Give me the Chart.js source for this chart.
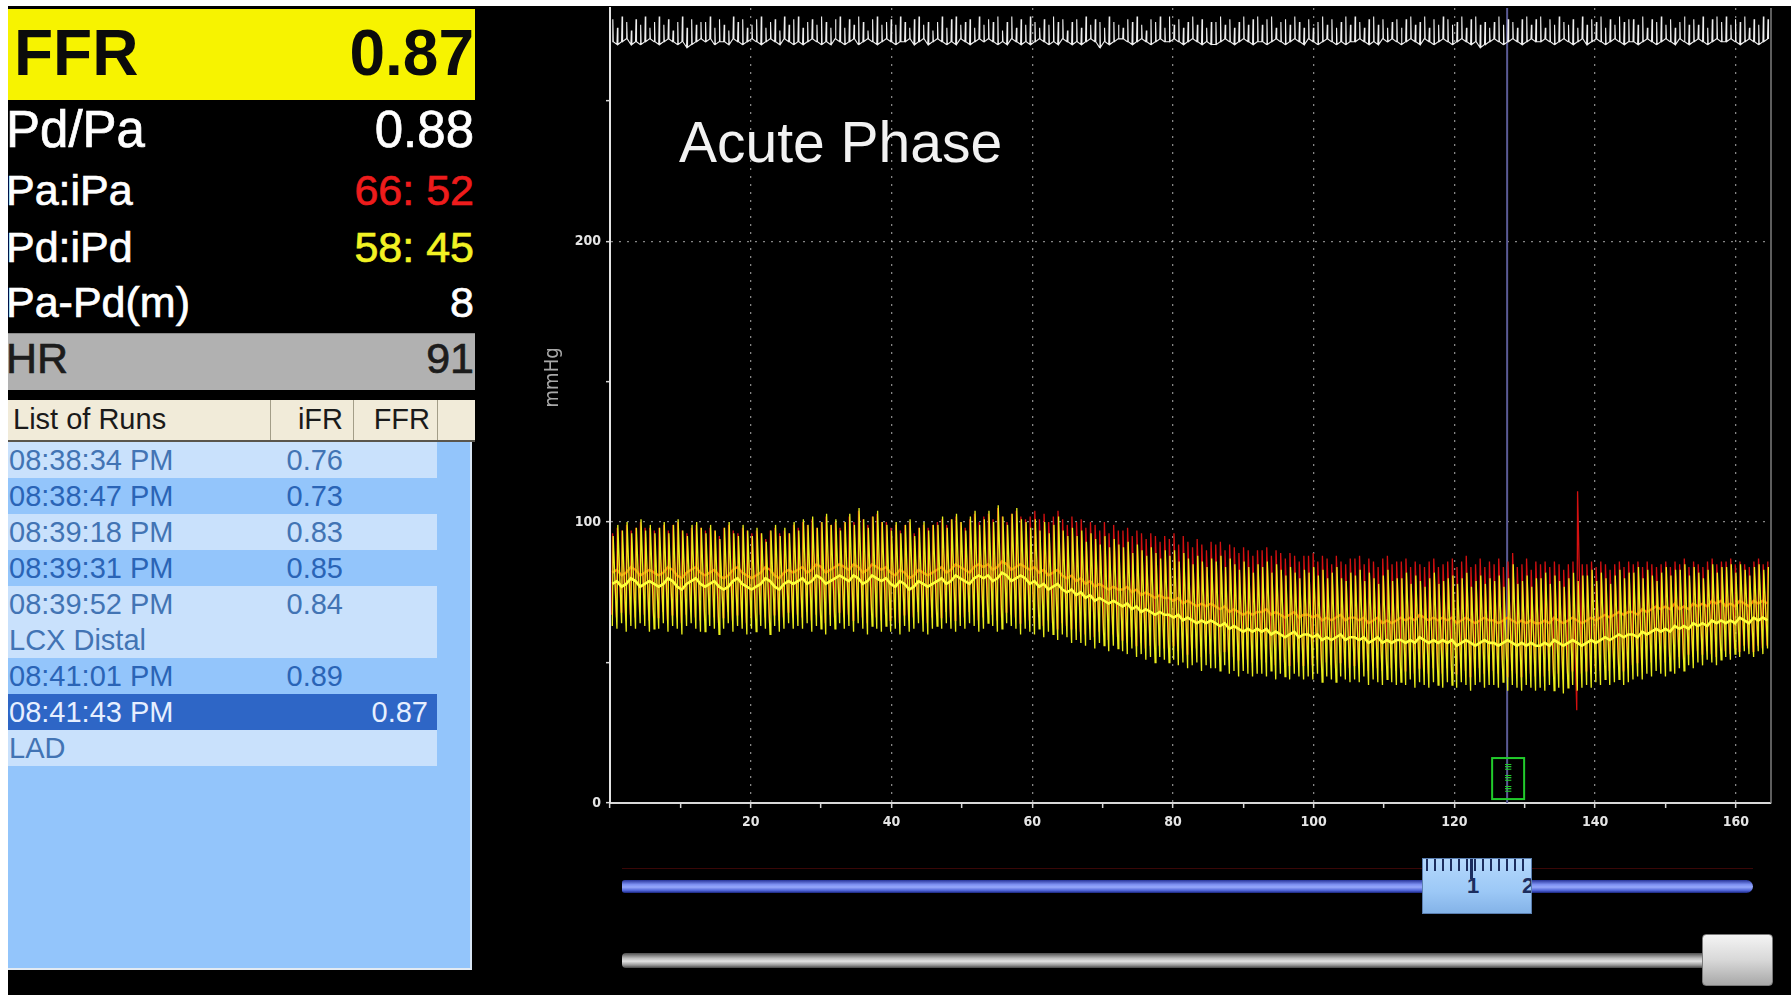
<!DOCTYPE html>
<html>
<head>
<meta charset="utf-8">
<title>FFR pressure recording</title>
<script src="https://cdn.jsdelivr.net/npm/chart.js@4.4.1/dist/chart.umd.min.js"></script>
<style>
  html, body { margin:0; padding:0; width:1791px; height:995px; overflow:hidden; background:#fff; }
  body { position:relative; font-family:"Liberation Sans", Arial, sans-serif; }
  .abs { position:absolute; }
  #screen { left:8px; top:6px; width:1783px; height:989px; background:#000; }
  #ffrBox { left:8px; top:9px; width:467px; height:91px; background:#f7f300; }
  #hrBox { left:8px; top:333px; width:467px; height:57px; background:#b1b1b1; border-top:1px solid #8c8c8c; box-sizing:border-box; }
  #metrics { left:8px; top:0; width:467px; height:392px; overflow:hidden; }
  .txt { position:absolute; white-space:pre; }
  #runsPanel { left:8px; top:400px; width:464px; height:570px; background:#93c5fb; border-right:2px solid #d6e4f4; border-bottom:2px solid #e2eaf2; box-sizing:border-box; }
  #runsHead { left:8px; top:400px; width:467px; height:42px; background:#f1ebd9; border-bottom:2px solid #5a564c; box-sizing:border-box; overflow:hidden; }
  .sep { position:absolute; top:0; width:1px; height:40px; background:#a39d88; }
  #runRows { left:8px; top:442px; width:462px; height:340px; overflow:hidden; }
  .row { position:absolute; left:0; width:462px; height:36px; line-height:36px; font-size:29px; }
  .band { position:absolute; left:0; top:0; width:429px; height:36px; }
  .cell { position:absolute; top:0; white-space:pre; }
  #chartWrap { left:478px; top:6px; width:1313px; height:850px; }
  #pinLine { left:622px; top:868px; width:1131px; height:1px; background:#3a0707; }
  #zoomTrack { left:622px; top:880px; width:1131px; height:13px; border-radius:3px 7px 7px 3px;
    background:linear-gradient(#26339a 0%, #7d90f2 35%, #96a8fb 55%, #4d62d6 82%, #1a257c 100%); }
  #zoomThumb { left:1422px; top:858px; width:110px; height:56px; overflow:hidden; box-sizing:border-box;
    background:linear-gradient(#b4d8fc 0%, #9cc8f6 60%, #84b3e8 100%); border:1px solid #5b7fb0; }
  .ruler { position:absolute; left:3px; top:0; width:104px; height:12px;
    background:repeating-linear-gradient(to right, #1c2d5e 0 2px, transparent 2px 8px); }
  .rulerLong { position:absolute; top:0; width:3px; height:20px; background:#1c2d5e; }
  .rulerNum { position:absolute; top:14px; font:bold 22px "Liberation Sans", Arial, sans-serif; color:#1c2d5e; }
  #scrollTrack { left:622px; top:953px; width:1082px; height:15px; border-radius:4px 0 0 4px;
    background:linear-gradient(#4e4e4e 0%, #bdbdbd 35%, #e2e2e2 55%, #9a9a9a 80%, #454545 100%); }
  #scrollThumb { left:1702px; top:934px; width:71px; height:52px; border-radius:4px; box-sizing:border-box;
    background:linear-gradient(#f4f4f4 0%, #d8d8d8 50%, #a8a8a8 100%); border:1px solid #7a7a7a; }
</style>
</head>
<body>
<div id="screen" class="abs"></div>
<div id="ffrBox" class="abs"></div>
<div id="hrBox" class="abs"></div>
<div id="metrics" class="abs"></div>
<div id="runsPanel" class="abs"></div>
<div id="runsHead" class="abs"></div>
<div id="runRows" class="abs"></div>
<div id="chartWrap" class="abs"><canvas id="trend"></canvas></div>
<div id="pinLine" class="abs"></div>
<div id="zoomTrack" class="abs"></div>
<div id="zoomThumb" class="abs">
  <div class="ruler"></div>
  <div class="rulerLong" style="left:47px"></div>
  <div class="rulerNum" style="left:44px">1</div>
  <div class="rulerNum" style="left:99px">2</div>
</div>
<div id="scrollTrack" class="abs"></div>
<div id="scrollThumb" class="abs"></div>

<script>
// ---- summary readouts -------------------------------------------------
const ffrLabel = 'FFR';
const ffrValue = '0.87';
const metricNames  = ['Pd/Pa', 'Pa:iPa', 'Pd:iPd', 'Pa-Pd(m)', 'HR'];
const metricValues = ['0.88',  '66: 52', '58: 45', '8',        '91'];

// ---- list of runs -----------------------------------------------------
const runLabels = ['08:38:34 PM', '08:38:47 PM', '08:39:18 PM', '08:39:31 PM', '08:39:52 PM',
                   'LCX Distal', '08:41:01 PM', '08:41:43 PM', 'LAD'];
const runIFR = ['0.76', '0.73', '0.83', '0.85', '0.84', '', '0.89', '', ''];
const runFFR = ['', '', '', '', '', '', '', '0.87', ''];
const selectedRun = 7;

// ---- pressure trend (mmHg), one value per heart beat ------------------
const heartRate = 91;
const cursorTime = 127.5;
const xTickValues = [20, 40, 60, 80, 100, 120, 140, 160];
const yTickValues = [0, 100, 200];

// distal pressure Pd: systolic peaks
const pdSys = [
  95,99,97,100,96,98,101,97,99,96,
  98,100,96,99,101,97,95,99,100,98,
  96,99,97,94,98,100,96,95,99,97,
  95,98,96,93,97,99,95,98,96,100,
  97,101,99,102,98,100,103,99,101,97,
  100,103,99,105,101,98,102,104,100,99,
  97,100,96,99,101,95,98,100,97,99,
  99,102,98,101,103,100,97,102,104,99,
  101,104,100,106,102,99,103,105,101,100,
  98,101,97,100,96,99,102,97,95,98,
  95,97,93,96,94,92,95,91,94,92,
  91,93,89,92,90,88,91,89,87,90,
  88,90,86,89,87,85,88,86,84,87,
  86,88,84,87,85,83,86,84,82,85,
  84,86,82,85,83,81,84,82,80,83,
  82,84,81,83,80,82,84,80,79,82,
  81,83,79,82,80,78,81,83,79,80,
  80,82,78,81,79,77,80,82,78,79,
  80,81,78,80,82,77,79,81,78,80,
  79,81,77,80,85,78,79,81,77,80,
  80,82,78,81,79,77,80,82,79,81,
  81,83,79,82,80,78,81,83,80,82,
  82,84,80,83,81,79,82,84,81,83,
  83,85,81,84,82,80,83,85,82,84,
  84,85,82,85,83,81,84,85,83,84
];
// distal pressure Pd: diastolic troughs
const pdDia = [
  63,62,64,61,63,62,64,63,61,62,
  62,64,61,63,62,60,63,64,62,61,
  61,63,62,60,62,64,61,63,62,60,
  62,61,63,62,60,63,61,62,64,62,
  63,62,64,61,63,62,60,63,62,64,
  62,63,61,64,62,60,63,62,61,63,
  61,62,60,63,61,62,64,61,60,62,
  63,62,64,62,61,63,62,64,63,61,
  62,64,63,61,62,64,63,62,60,62,
  61,60,62,59,61,60,58,60,59,57,
  58,57,56,58,55,57,56,54,56,55,
  54,53,55,52,53,51,52,50,52,51,
  50,51,49,50,48,49,50,47,49,48,
  48,47,49,46,47,45,47,46,45,46,
  46,45,47,44,46,45,44,46,45,44,
  45,44,46,43,45,44,43,45,44,43,
  44,43,45,42,44,43,42,44,43,42,
  43,42,44,41,43,42,41,43,42,41,
  43,42,41,43,42,40,42,43,41,42,
  42,41,43,40,42,41,40,42,41,40,
  41,40,42,40,41,39,41,42,40,41,
  42,41,43,42,44,42,43,44,42,43,
  44,45,44,46,45,47,46,45,47,46,
  48,47,49,48,50,49,51,50,49,51,
  52,51,53,52,54,53,52,54,53,55
];
// distal pressure Pd: running mean
const pdMean = [
  78,79,77,78,80,79,77,78,79,78,
  77,78,80,79,77,76,78,79,80,78,
  77,78,79,77,76,77,79,80,78,77,
  76,77,78,80,79,77,76,78,79,78,
  79,80,78,79,81,80,78,79,80,81,
  80,79,81,80,78,79,81,80,79,80,
  78,77,79,78,76,77,79,78,77,78,
  79,80,78,79,81,80,79,78,80,81,
  80,81,79,80,82,81,79,80,81,80,
  78,79,77,78,76,77,78,76,75,76,
  74,75,73,74,72,73,72,71,72,71,
  70,71,69,70,68,69,68,67,68,67,
  67,66,67,65,66,65,64,65,64,65,
  64,63,64,62,63,62,61,62,61,62,
  61,62,60,61,60,59,60,61,59,60,
  60,59,60,58,59,58,59,60,58,59,
  59,58,59,57,58,59,57,58,57,58,
  58,57,58,57,59,58,57,58,57,58,
  57,58,56,57,58,57,56,57,58,57,
  57,56,57,58,57,56,57,56,57,56,
  56,57,56,58,57,56,57,58,57,56,
  57,58,57,58,59,58,59,60,59,60,
  60,59,61,60,61,62,61,62,61,63,
  62,63,62,64,63,64,63,65,64,65,
  64,65,64,66,65,64,66,65,66,65
];
// aortic pressure Pa: systolic peaks
const paSys = [
  96,98,97,99,97,98,100,98,98,97,
  98,99,97,99,100,97,96,98,99,98,
  97,98,97,95,98,99,97,96,98,97,
  96,97,96,94,97,98,96,97,96,99,
  98,100,99,101,98,100,102,99,100,98,
  100,102,100,104,101,99,102,103,100,100,
  98,99,97,99,100,96,98,99,98,99,
  100,101,99,101,102,100,98,101,103,100,
  102,103,101,105,102,100,103,104,102,101,
  102,104,101,103,100,102,104,101,99,102,
  100,101,98,100,99,97,100,96,99,97,
  97,98,95,97,96,94,96,95,93,95,
  94,96,92,95,93,91,94,92,90,93,
  92,93,90,92,91,89,91,90,88,90,
  90,91,88,90,89,87,89,88,86,88,
  88,89,86,88,87,85,88,86,85,87,
  87,88,85,87,86,84,87,88,85,86,
  86,87,84,86,85,84,86,87,84,85,
  86,87,84,86,88,84,85,87,84,86,
  85,87,84,86,89,84,85,87,83,86,
  85,86,84,86,85,83,85,86,111,85,
  85,86,84,86,85,83,85,86,84,86,
  85,86,84,86,85,84,85,86,84,86,
  85,87,84,86,85,84,86,87,85,86,
  86,87,85,86,85,84,86,87,85,86
];
// aortic pressure Pa: diastolic troughs
const paDia = [
  67,66,68,65,67,66,68,67,65,66,
  66,68,65,67,66,64,67,68,66,65,
  65,67,66,64,66,68,65,67,66,64,
  66,65,67,66,64,67,65,66,68,66,
  67,66,68,65,67,66,64,67,66,68,
  66,67,65,68,66,64,67,66,65,67,
  65,66,64,67,65,66,68,65,64,66,
  67,66,68,66,65,67,66,68,67,65,
  66,68,67,65,66,68,67,66,64,66,
  65,64,66,63,65,64,62,64,63,62,
  62,61,60,62,59,61,60,58,60,59,
  58,57,59,56,57,55,56,55,56,55,
  55,56,54,55,53,54,55,52,54,53,
  53,52,54,51,52,51,52,51,50,51,
  51,50,52,49,51,50,49,51,50,49,
  50,49,51,48,50,49,48,50,49,48,
  49,48,50,47,49,48,47,49,48,47,
  48,47,49,46,48,47,46,48,47,46,
  48,47,46,48,47,45,47,48,46,47,
  47,46,48,45,47,46,45,47,46,45,
  46,45,47,45,46,44,46,47,33,46,
  47,46,48,47,49,47,48,49,47,48,
  49,50,49,51,50,52,51,50,52,51,
  52,51,53,52,54,53,54,53,52,54,
  54,53,55,54,56,55,54,56,55,56
];
// aortic pressure Pa: running mean
const paMean = [
  82,83,81,82,84,83,81,82,83,82,
  81,82,84,83,81,80,82,83,84,82,
  81,82,83,81,80,81,83,84,82,81,
  80,81,82,84,83,81,80,82,83,82,
  83,84,82,83,85,84,82,83,84,85,
  84,83,85,84,82,83,85,84,83,84,
  82,81,83,82,80,81,83,82,81,82,
  83,84,82,83,85,84,83,82,84,85,
  84,85,83,84,86,85,83,84,85,84,
  83,84,82,83,81,82,83,81,80,81,
  79,80,78,79,77,78,77,76,77,76,
  76,77,75,76,74,75,74,73,74,73,
  73,72,73,71,72,71,70,71,70,71,
  70,69,70,68,69,68,67,68,67,68,
  68,69,67,68,67,66,67,68,66,67,
  67,66,67,65,66,65,66,67,65,66,
  66,65,66,64,65,66,64,65,64,65,
  66,65,66,65,67,66,65,66,65,66,
  65,66,64,65,66,65,64,65,66,65,
  65,64,65,66,65,64,65,64,65,64,
  64,65,64,66,65,64,65,66,65,64,
  65,66,65,66,67,66,67,68,67,68,
  68,67,69,68,69,70,69,70,69,71,
  69,70,69,71,70,71,70,72,71,72,
  70,71,70,72,71,70,72,71,72,71
];
// ECG strip drawn along the top of the trend: R-wave peaks
const ecgPeak = [
  279,276,280,278,275,279,277,280,276,278,
  280,277,279,275,278,280,276,279,277,278,
  278,280,276,279,277,275,280,278,279,276,
  277,279,280,276,278,279,275,280,277,279,
  280,276,278,279,277,280,278,276,279,280,
  276,279,277,280,278,275,279,280,277,278,
  279,277,280,278,276,279,280,277,278,275,
  278,280,276,279,280,277,278,279,276,280,
  277,279,278,280,275,278,280,276,279,277,
  280,278,276,279,277,280,278,279,275,278,
  279,276,280,277,279,278,276,280,278,277,
  276,279,278,280,277,275,279,278,280,276,
  280,277,279,276,278,280,277,279,276,278,
  278,280,277,279,276,278,280,277,279,280,
  277,279,280,276,278,279,277,280,278,276,
  279,276,278,280,277,279,276,278,280,277,
  280,278,276,279,280,277,279,276,278,279,
  276,279,280,277,278,280,276,279,277,280,
  279,277,278,280,276,279,280,277,278,276,
  278,280,277,279,278,276,279,280,277,279,
  280,276,279,277,280,278,277,279,276,280,
  277,279,278,280,276,279,277,280,278,279,
  279,277,280,276,279,278,280,277,279,276,
  278,280,277,279,277,280,276,279,280,278,
  280,277,279,278,280,276,279,277,280,279
];
// ECG strip: baseline between beats
const ecgBase = [
  271,270,271,272,270,271,270,271,272,271,
  270,271,272,271,270,271,269,270,271,272,
  271,272,270,271,271,270,272,271,270,271,
  272,271,270,271,272,271,270,272,271,270,
  271,270,271,272,271,270,271,270,272,271,
  270,271,272,270,271,272,271,270,271,272,
  271,270,271,271,272,270,271,272,270,271,
  272,271,270,271,270,272,271,270,271,272,
  271,272,271,270,271,270,272,271,270,271,
  270,271,272,271,270,271,270,272,271,270,
  271,270,271,272,271,269,271,270,271,272,
  272,271,270,271,272,271,270,271,272,271,
  271,272,271,270,271,272,271,270,271,270,
  270,271,272,271,270,271,272,271,270,271,
  271,270,271,272,271,270,271,272,271,270,
  272,271,270,271,272,271,270,271,270,271,
  271,272,271,270,271,270,272,271,272,271,
  270,271,272,271,270,272,271,270,271,272,
  271,270,271,272,271,270,271,269,270,271,
  272,271,270,271,272,271,270,271,272,271,
  271,272,271,270,271,272,271,270,271,272,
  270,271,272,271,270,271,272,271,270,271,
  271,270,271,272,271,270,271,272,271,270,
  272,271,270,271,272,271,270,271,272,271,
  271,272,271,270,271,272,271,270,271,272
];

// ---- left panel ---------------------------------------------------------
const SANS = '"Liberation Sans", Arial, sans-serif';
function placeText(parent, text, o) {
  const d = document.createElement('div');
  d.className = 'txt';
  d.textContent = text;
  d.style.fontSize = o.size + 'px';
  d.style.lineHeight = o.size + 'px';
  d.style.fontWeight = o.weight || 400;
  d.style.color = o.color;
  d.style.fontFamily = SANS;
  if (o.stroke) d.style.webkitTextStroke = o.stroke + 'px ' + o.color;
  d.style.top = (o.base - 0.8465 * o.size) + 'px';
  if (o.right !== undefined) {
    d.style.left = '0px';
    d.style.width = o.right + 'px';
    d.style.textAlign = 'right';
  } else {
    d.style.left = o.left + 'px';
  }
  parent.appendChild(d);
}

const metrics = document.getElementById('metrics');
placeText(metrics, ffrLabel, {left: 6, base: 75, size: 64, weight: 700, color: '#0b0b0b'});
placeText(metrics, ffrValue, {right: 466, base: 75, size: 64, weight: 700, color: '#0b0b0b'});
const metricBase  = [147, 205, 262, 317, 373];
const metricSize  = [51, 43, 43, 43, 43];
const metricColor = ['#ffffff', '#ee1c1c', '#f2f224', '#ffffff', '#1c1c1c'];
metricNames.forEach((name, i) => {
  const labelColor = i === 4 ? '#1c1c1c' : '#ffffff';
  placeText(metrics, name, {left: -2, base: metricBase[i], size: metricSize[i], color: labelColor, stroke: 0.7});
  placeText(metrics, metricValues[i], {right: 466, base: metricBase[i], size: metricSize[i], color: metricColor[i], stroke: 0.7});
});

const head = document.getElementById('runsHead');
placeText(head, 'List of Runs', {left: 5, base: 30, size: 29, color: '#1a1a1a'});
placeText(head, 'iFR', {right: 335, base: 30, size: 29, color: '#1a1a1a'});
placeText(head, 'FFR', {right: 422, base: 30, size: 29, color: '#1a1a1a'});
[262, 345, 429].forEach(x => {
  const s = document.createElement('div');
  s.className = 'sep';
  s.style.left = x + 'px';
  head.appendChild(s);
});

const rowShade = ['light', 'plain', 'light', 'plain', 'light', 'light', 'plain', 'sel', 'light'];
const rowsBox = document.getElementById('runRows');
runLabels.forEach((label, i) => {
  const row = document.createElement('div');
  row.className = 'row';
  row.style.top = (i * 36) + 'px';
  row.style.fontFamily = SANS;
  const shade = i === selectedRun ? 'sel' : rowShade[i];
  if (shade !== 'plain') {
    const band = document.createElement('div');
    band.className = 'band';
    band.style.background = shade === 'sel' ? '#2e66c6' : '#c9e1fc';
    row.appendChild(band);
  }
  const color = shade === 'sel' ? '#e6efff' : (shade === 'light' ? '#4274b4' : '#2a64b6');
  const cells = [
    {text: label, left: 1},
    {text: runIFR[i], right: 335},
    {text: runFFR[i], right: 420}
  ];
  cells.forEach(c => {
    if (!c.text) return;
    const s = document.createElement('div');
    s.className = 'cell';
    s.textContent = c.text;
    s.style.color = color;
    if (c.right !== undefined) {
      s.style.left = '0px';
      s.style.width = c.right + 'px';
      s.style.textAlign = 'right';
    } else {
      s.style.left = c.left + 'px';
    }
    row.appendChild(s);
  });
  rowsBox.appendChild(row);
});

// ---- trend chart --------------------------------------------------------
const beatInterval = 60 / heartRate;
const beatTimes = pdSys.map((_, i) => (i + 0.5) * beatInterval);

// each beat becomes a trough -> peak stroke, so the trace reads as a dense waveform
function beatStrokes(lows, highs, shift, rise) {
  const pts = [];
  lows.forEach((lo, i) => {
    const t = beatTimes[i] + shift;
    pts.push({x: t, y: lo});
    pts.push({x: t + rise, y: highs[i]});
  });
  return pts;
}
function ecgStrokes() {
  const pts = [];
  ecgBase.forEach((b, i) => {
    const t = beatTimes[i];
    pts.push({x: t, y: b});
    pts.push({x: t + 0.07, y: ecgPeak[i]});
    pts.push({x: t + 0.14, y: b});
  });
  return pts;
}
const meanLine = arr => arr.map((v, i) => ({x: beatTimes[i], y: v}));

const TICK_FONT = {family: '"DejaVu Sans Condensed", "DejaVu Sans", sans-serif', size: 14, weight: 'bold'};
const GRID_DOT = 'rgba(190,190,190,0.7)';

const plotDecor = {
  id: 'plotDecor',
  beforeDatasetsDraw(chart) {
    const {ctx, chartArea} = chart;
    ctx.save();
    ctx.strokeStyle = '#7e7e7e';
    ctx.lineWidth = 1.5;
    ctx.beginPath();
    ctx.moveTo(chartArea.right, chartArea.top);
    ctx.lineTo(chartArea.right, chartArea.bottom);
    ctx.stroke();
    ctx.restore();
  },
  afterDatasetsDraw(chart) {
    const {ctx, chartArea, scales: {x, y}} = chart;
    ctx.save();
    // cursor marker at the base of the cursor line
    const cx = x.getPixelForValue(cursorTime);
    const top = y.getPixelForValue(16);
    const bottom = y.getPixelForValue(1.4);
    ctx.strokeStyle = '#22cc2c';
    ctx.lineWidth = 2;
    ctx.strokeRect(cx - 15, top, 32, bottom - top);
    ctx.fillStyle = '#22cc2c';
    ctx.font = 'bold 10px "DejaVu Sans", sans-serif';
    ctx.textAlign = 'center';
    ctx.textBaseline = 'middle';
    for (let k = 0; k < 3; k++) {
      ctx.fillText('\u2261', cx + 1, top + 9 + k * 11);
    }
    // phase caption
    ctx.fillStyle = '#f2f2f2';
    ctx.font = '57px "Liberation Sans", Arial, sans-serif';
    ctx.textAlign = 'left';
    ctx.textBaseline = 'alphabetic';
    ctx.fillText('Acute Phase', chartArea.left + 69, 156);
    // unit label of the pressure axis
    ctx.translate(chartArea.left - 57, y.getPixelForValue(151.5));
    ctx.rotate(-Math.PI / 2);
    ctx.fillStyle = '#a8a8a8';
    ctx.font = '20px "DejaVu Sans Condensed", "DejaVu Sans", sans-serif';
    ctx.textAlign = 'center';
    ctx.textBaseline = 'middle';
    ctx.fillText('mmHg', 0, 0);
    ctx.restore();
  }
};

new Chart(document.getElementById('trend'), {
  type: 'line',
  data: {
    datasets: [
      {label: 'ECG', data: ecgStrokes(), borderColor: '#eeeeee', borderWidth: 1.1, order: 1},
      {label: 'Pd mean', data: meanLine(pdMean), borderColor: '#ffff3a', borderWidth: 2.6, order: 2},
      {label: 'Pd', data: beatStrokes(pdDia, pdSys, 0, 0.12), borderColor: '#eaee1c', borderWidth: 1.3, order: 3},
      {label: 'Pa mean', data: meanLine(paMean), borderColor: 'rgba(255,110,10,0.9)', borderWidth: 2.4, order: 4},
      {label: 'Pa', data: beatStrokes(paDia, paSys, -0.08, 0.12), borderColor: '#d41010', borderWidth: 1.3, order: 5},
      {label: 'Cursor', data: [{x: cursorTime, y: 0}, {x: cursorTime, y: 283}], borderColor: '#5a5a94', borderWidth: 2, order: 10}
    ]
  },
  options: {
    responsive: true,
    maintainAspectRatio: false,
    animation: false,
    events: [],
    layout: {padding: {top: 2, right: 20, left: 0, bottom: 0}},
    elements: {point: {radius: 0}, line: {tension: 0, fill: false}},
    plugins: {legend: {display: false}, tooltip: {enabled: false}, title: {display: false}},
    scales: {
      x: {
        type: 'linear', min: 0, max: 165,
        afterFit: s => { s.height = 53; s.paddingLeft = 0; s.paddingRight = 0; },
        ticks: {
          stepSize: 10, includeBounds: false, autoSkip: false, maxRotation: 0,
          color: '#e4e4e4', font: TICK_FONT, padding: 6,
          callback: v => xTickValues.includes(v) ? String(v) : ''
        },
        grid: {
          color: c => (c.tick && xTickValues.includes(c.tick.value)) ? GRID_DOT : 'rgba(0,0,0,0)',
          lineWidth: 1.3, tickColor: '#d6d6d6', tickLength: 5, tickWidth: 1.5
        },
        border: {color: '#d8d8d8', width: 2, dash: [2, 6]}
      },
      y: {
        type: 'linear', min: 0, max: 283,
        afterFit: s => { s.width = 132; s.paddingTop = 0; s.paddingBottom = 0; },
        ticks: {
          stepSize: 50, includeBounds: false,
          color: '#e4e4e4', font: TICK_FONT, padding: 5,
          callback: v => yTickValues.includes(v) ? String(v) : ''
        },
        grid: {
          color: c => (c.tick && c.tick.value > 0 && yTickValues.includes(c.tick.value)) ? GRID_DOT : 'rgba(0,0,0,0)',
          lineWidth: 1.3, tickColor: '#d6d6d6', tickLength: 4, tickWidth: 1.5
        },
        border: {color: '#e2e2e2', width: 2, dash: [2, 6]}
      }
    }
  },
  plugins: [plotDecor]
});
</script>
</body>
</html>
